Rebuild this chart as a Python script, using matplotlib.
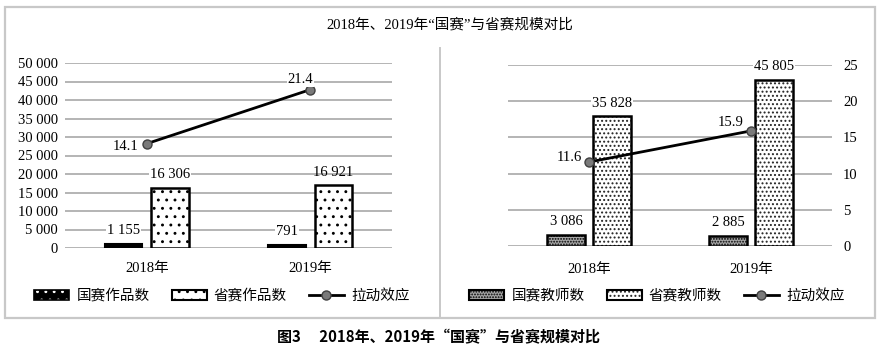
import matplotlib
matplotlib.use('Agg')
import matplotlib.pyplot as plt
from matplotlib.patches import Patch, Rectangle
from matplotlib.lines import Line2D
from matplotlib.legend_handler import HandlerTuple

plt.rcParams['font.family'] = ['Liberation Serif', 'Noto Sans CJK SC']
plt.rcParams['hatch.linewidth'] = 0.9

years = ['2018年', '2019年']
works_nat = [1155, 791]
works_prov = [16306, 16921]
works_pull = [14.1, 21.4]
teach_nat = [3086, 2885]
teach_prov = [35828, 45805]
teach_pull = [11.6, 15.9]

works_nat_lbl = ['1 155', '791']
works_prov_lbl = ['16 306', '16 921']
teach_nat_lbl = ['3 086', '2 885']
teach_prov_lbl = ['35 828', '45 805']
left_ticks = ['0', '5 000', '10 000', '15 000', '20 000', '25 000',
              '30 000', '35 000', '40 000', '45 000', '50 000']

GRID = '#b4b4b4'
FS = 10.5

fig = plt.figure(figsize=(8.8, 3.55), dpi=100)

# outer frame and divider
fig.patches.append(Rectangle((5 / 880, 1 - 318 / 355), 870 / 880, 311 / 355,
                             transform=fig.transFigure, fill=False,
                             edgecolor='#c8c8c8', linewidth=1.6))
fig.add_artist(Line2D([440 / 880, 440 / 880], [1 - 48 / 355, 1 - 318 / 355],
                      transform=fig.transFigure, color='#c8c8c8', lw=1.4))

fig.text(450 / 880, 1 - 25 / 355, '2018年、2019年“国赛”与省赛规模对比',
         ha='center', va='center', fontsize=10.5)
fig.text(438 / 880, 1 - 337 / 355, '图3\u3000 2018年、2019年“国赛”与省赛规模对比',
         ha='center', va='center', fontsize=10.8, fontweight='bold',
         family=['Noto Sans CJK SC', 'DejaVu Sans'])

x = [0, 1]
off = 0.142
w = 0.23

H_WN = '..'      # 国赛作品数 (white dots on black)
H_WP = '..'      # 省赛作品数
H_TN = '......'  # 国赛教师数
H_TP = '....'    # 省赛教师数
TN_FACE = '#a8a8a8'


def style_axes(ax):
    for s in ax.spines.values():
        s.set_visible(False)
    ax.tick_params(length=0, labelsize=FS, colors='black')
    ax.set_xlim(-0.5, 1.5)


def val_label(ax, xx, yy, txt, bg=True):
    kw = dict(bbox=dict(facecolor='white', edgecolor='none', pad=0.5)) if bg else {}
    ax.annotate(txt, (xx, yy), xytext=(0, 9.5), textcoords='offset points',
                ha='center', va='center', fontsize=FS, **kw)


def pull_line(ax2, vals, offsets):
    ax2.plot(x, vals, color='black', lw=2, marker='o', markersize=6.5,
             markerfacecolor='#7a7a7a', markeredgecolor='#404040', zorder=5)
    for xi, v, o in zip(x, vals, offsets):
        ax2.annotate(f'{v}', (xi, v), xytext=o, textcoords='offset points',
                     ha='center', va='center', fontsize=FS, zorder=6,
                     bbox=dict(facecolor='white', edgecolor='none', pad=0.3))


# ---------- left panel ----------
ax = fig.add_axes([65 / 880, 1 - 248 / 355, 327 / 880, 185 / 355])
style_axes(ax)
ax.set_ylim(0, 50000)
ax.set_yticks(range(0, 50001, 5000))
ax.set_yticklabels(left_ticks)
ax.yaxis.grid(True, color=GRID, lw=1.4)
ax.set_axisbelow(True)
ax.set_xticks(x)
ax.set_xticklabels(years)
ax.tick_params(axis='x', pad=10)
ax.tick_params(axis='y', pad=5)

xn = [i - off for i in x]
xp = [i + off for i in x]
ax.bar(xn, works_nat, w, color='black', edgecolor='white', hatch=H_WN, lw=0, zorder=2)
ax.bar(xn, works_nat, w, fill=False, edgecolor='black', lw=1.5, zorder=3)
ax.bar(xp, works_prov, w, color='white', edgecolor='black', hatch=H_WP, lw=0, zorder=2)
ax.bar(xp, works_prov, w, fill=False, edgecolor='black', lw=1.8, zorder=3)
for i in range(2):
    val_label(ax, xn[i], works_nat[i], works_nat_lbl[i])
    val_label(ax, xp[i], works_prov[i], works_prov_lbl[i], bg=(i == 0))

ax2 = ax.twinx()
ax2.set_ylim(0, 25)
ax2.axis('off')
pull_line(ax2, works_pull, [(-15, -2), (-7, 7)])

h1 = (Patch(facecolor='black', edgecolor='white', hatch=H_WN, lw=0),
      Patch(fill=False, edgecolor='black', lw=1.2))
h2 = (Patch(facecolor='white', edgecolor='black', hatch=H_WP, lw=0),
      Patch(fill=False, edgecolor='black', lw=1.5))
h3 = Line2D([], [], color='black', lw=2, marker='o', markersize=6.5,
            markerfacecolor='#7a7a7a', markeredgecolor='#404040')
leg_kw = dict(handler_map={tuple: HandlerTuple(ndivide=1, pad=0)},
              loc='center', ncol=3, frameon=False, fontsize=FS,
              handlelength=2.4, handleheight=0.65, handletextpad=0.5,
              columnspacing=1.5)
fig.legend([h1, h2, h3], ['国赛作品数', '省赛作品数', '拉动效应'],
           bbox_to_anchor=(222 / 880, 1 - 296 / 355), **leg_kw)

# ---------- right panel ----------
axr = fig.add_axes([508 / 880, 1 - 246 / 355, 324 / 880, 181 / 355])
style_axes(axr)
axr.set_ylim(0, 50000)
axr.set_yticks([])
axr.set_xticks(x)
axr.set_xticklabels(years)
axr.tick_params(axis='x', pad=12)

axr2 = axr.twinx()
style_axes(axr2)
axr2.set_ylim(0, 25)
axr2.set_yticks(range(0, 26, 5))
axr2.yaxis.grid(True, color=GRID, lw=1.4)
axr2.tick_params(axis='y', pad=8)
axr.set_zorder(axr2.get_zorder() + 1)
axr.patch.set_visible(False)

axr.bar(xn, teach_nat, w, color=TN_FACE, edgecolor='black', hatch=H_TN, lw=0, zorder=2)
axr.bar(xn, teach_nat, w, fill=False, edgecolor='black', lw=1.8, zorder=3)
axr.bar(xp, teach_prov, w, color='white', edgecolor='#222222', hatch=H_TP, lw=0, zorder=2)
axr.bar(xp, teach_prov, w, fill=False, edgecolor='black', lw=1.8, zorder=3)
for i in range(2):
    val_label(axr, xn[i], teach_nat[i], teach_nat_lbl[i])
    val_label(axr, xp[i], teach_prov[i], teach_prov_lbl[i])

axr3 = axr.twinx()
axr3.set_ylim(0, 25)
axr3.axis('off')
pull_line(axr3, teach_pull, [(-14, 3), (-15, 6)])

g1 = (Patch(facecolor=TN_FACE, edgecolor='black', hatch=H_TN, lw=0),
      Patch(fill=False, edgecolor='black', lw=1.5))
g2 = (Patch(facecolor='white', edgecolor='#222222', hatch=H_TP, lw=0),
      Patch(fill=False, edgecolor='black', lw=1.5))
fig.legend([g1, g2, h3], ['国赛教师数', '省赛教师数', '拉动效应'],
           bbox_to_anchor=(657 / 880, 1 - 296 / 355), **leg_kw)

fig.savefig('out.png', dpi=100)
